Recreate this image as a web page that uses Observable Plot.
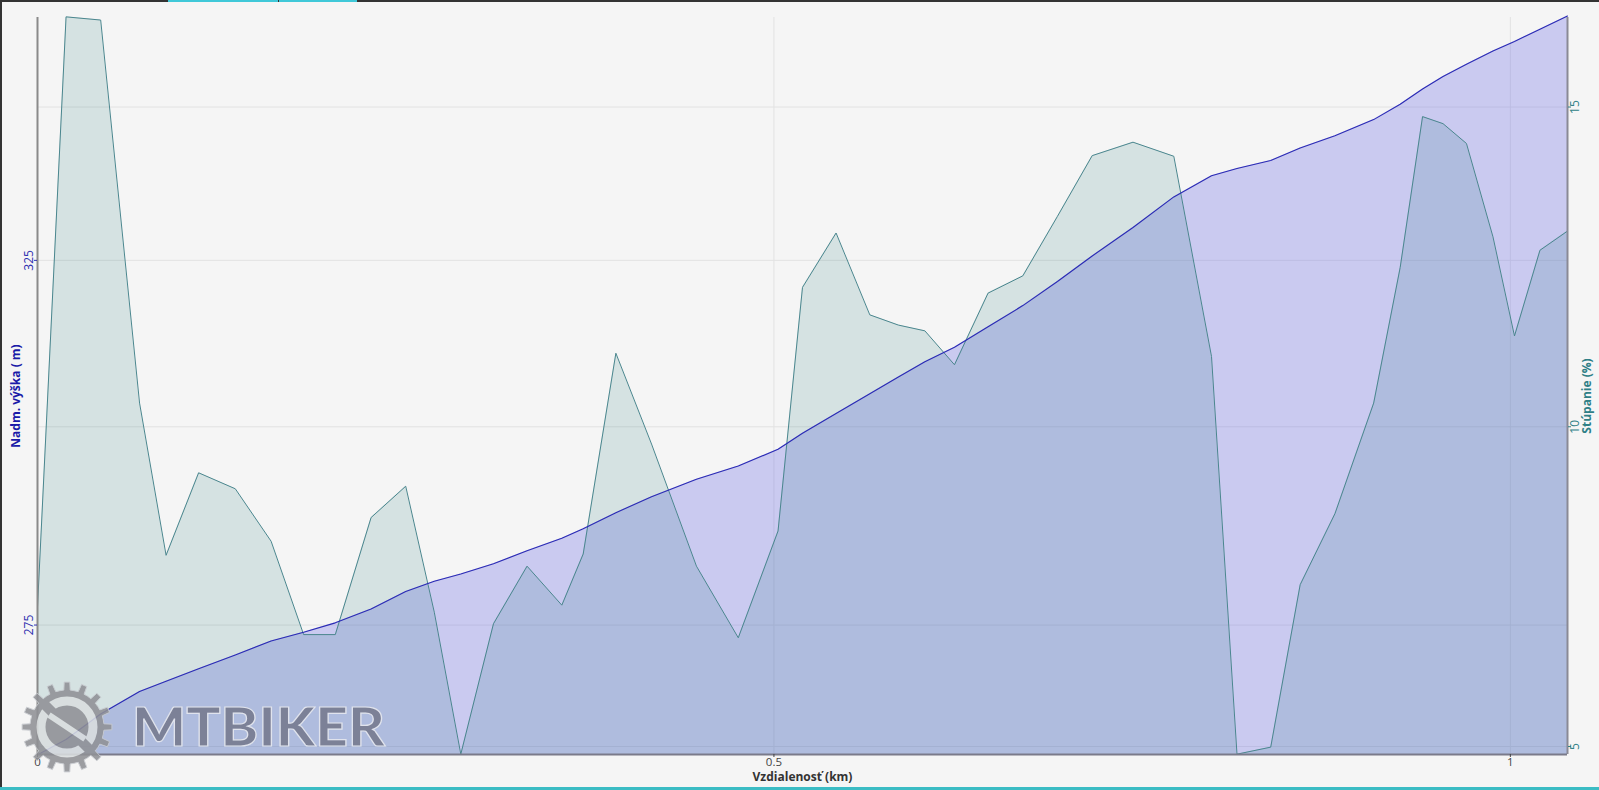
<!DOCTYPE html>
<html>
<head>
<meta charset="utf-8">
<script src="https://cdn.jsdelivr.net/npm/d3@7"></script>
<script src="https://cdn.jsdelivr.net/npm/@observablehq/plot@0.6"></script>
<style>
  html, body { margin: 0; padding: 0; background: #f5f5f5; }
  #wrap { position: relative; width: 1599px; height: 790px; overflow: hidden; }
  .bl { position: absolute; }
</style>
</head>
<body>
<div id="wrap"></div>
<script>
// distance along the route (km)
const distance = [0, 0.0194, 0.0429, 0.0693, 0.0873, 0.1094, 0.1343, 0.1586, 0.1807, 0.2022,
  0.2265, 0.2500, 0.2694, 0.2874, 0.3096, 0.3324, 0.3560, 0.3705, 0.3927, 0.4169,
  0.4474, 0.4758, 0.5028, 0.5194, 0.5422, 0.5651, 0.5845, 0.6025, 0.6226, 0.6454,
  0.6690, 0.6925, 0.7161, 0.7438, 0.7715, 0.7971, 0.8144, 0.8373, 0.8573, 0.8809,
  0.9072, 0.9252, 0.9404, 0.9543, 0.9702, 0.9882, 1.0028, 1.0201, 1.0388];
// elevation (m)
const elevation = [257.2, 259.3, 262.8, 265.9, 267.3, 269.0, 270.9, 272.8, 274.0, 275.3,
  277.2, 279.6, 281.0, 282.0, 283.4, 285.2, 286.9, 288.2, 290.4, 292.6,
  295.0, 296.8, 299.1, 301.3, 304.0, 306.7, 309.0, 311.1, 313.1, 315.9,
  318.8, 322.1, 325.6, 329.5, 333.7, 336.6, 337.6, 338.7, 340.4, 342.1,
  344.3, 346.4, 348.5, 350.2, 351.9, 353.7, 355.0, 356.7, 358.5];
// gradient (%)
const gradient = [7.18, 16.41, 16.36, 10.37, 7.99, 9.28, 9.03, 8.21, 6.75, 6.75,
  8.58, 9.07, 7.10, 4.88, 6.92, 7.82, 7.21, 8.01, 11.15, 9.73,
  7.82, 6.70, 8.37, 12.18, 13.03, 11.75, 11.59, 11.50, 10.97, 12.09,
  12.36, 13.29, 14.24, 14.45, 14.23, 11.10, 4.88, 4.99, 7.53, 8.64,
  10.37, 12.49, 14.85, 14.74, 14.43, 12.97, 11.42, 12.76, 13.06];

const xTicks = [0, 0.5, 1];
const elevTicks = [275, 325];
const gradTicks = [5, 10, 15];

const xLabel = "Vzdialenosť (km)";
const elevLabel = "Nadm. výška ( m)";
const gradLabel = "Stúpanie (%)";

const elevDomain = [257.25, 358.3];
const gradDomain = [4.875, 16.4];
const xDomain = [0, 1.0388];
const g2e = d3.scaleLinear().domain(gradDomain).range(elevDomain);
const labelY = 306.4; // vertical centre of the side titles, in elevation units

const data = distance.map((d, i) => ({d, elev: elevation[i], grad: g2e(gradient[i])}));

const blue = "#2a2ab4";
const teal = "#2f7f86";

const chart = Plot.plot({
  width: 1599,
  height: 790,
  marginLeft: 37,
  marginRight: 32,
  marginTop: 17,
  marginBottom: 36,
  style: {background: "#f5f5f5", fontFamily: "'Open Sans', sans-serif", fontSize: "12px"},
  x: {domain: xDomain},
  y: {domain: elevDomain},
  marks: [
    Plot.gridY(elevTicks, {stroke: "#e2e2e2", strokeOpacity: 1}),
    Plot.gridY(gradTicks.map(g2e), {stroke: "#e2e2e2", strokeOpacity: 1}),
    Plot.gridX([0.5, 1], {stroke: "#e2e2e2", strokeOpacity: 1}),
    Plot.areaY(data, {x: "d", y1: elevDomain[0], y2: "elev", fill: "rgb(102,102,230)", fillOpacity: 0.3}),
    Plot.areaY(data, {x: "d", y1: elevDomain[0], y2: "grad", fill: "rgb(0,100,100)", fillOpacity: 0.13}),
    Plot.lineY(data, {x: "d", y: "grad", stroke: "#4a868e", strokeWidth: 1}),
    Plot.lineY(data, {x: "d", y: "elev", stroke: blue, strokeWidth: 1.1}),
    Plot.ruleX([xDomain[0]], {stroke: "#8a8a8a", strokeWidth: 2}),
    Plot.ruleX([xDomain[1]], {stroke: "#8a8a95", strokeWidth: 2}),
    Plot.ruleY([elevDomain[0]], {stroke: "#7a7a8a", strokeWidth: 2}),
    Plot.axisY(elevTicks, {anchor: "left", tickRotate: -90, tickSize: 3, tickPadding: 2, color: "#3030b0", label: null, fontSize: 12}),
    Plot.axisY(gradTicks.map(g2e), {anchor: "right", tickSize: 3, color: teal, tickFormat: () => "", label: null}),
    Plot.text(gradTicks, {y: g2e, text: d => String(d), frameAnchor: "right", textAnchor: "middle", dx: 8, rotate: -90,
      fill: teal, fontSize: 12}),
    Plot.axisX(xTicks, {tickSize: 3, tickPadding: 0, color: "#444", tickFormat: v => String(v), label: null, fontSize: 11.5}),
    Plot.text([xLabel], {frameAnchor: "bottom", dy: 26, fill: "#333", fontWeight: "bold", fontSize: 12}),
    Plot.text([elevLabel], {y: () => labelY, frameAnchor: "left", textAnchor: "middle", dx: -21, rotate: -90, fill: "#1a1aa8", fontWeight: "bold", fontSize: 12}),
    Plot.text([gradLabel], {y: () => labelY, frameAnchor: "right", textAnchor: "middle", dx: 20, rotate: -90, fill: teal, fontWeight: "bold", fontSize: 12})
  ]
});

const wrap = document.getElementById("wrap");
wrap.appendChild(chart);

// watermark logo
const ns = "http://www.w3.org/2000/svg";
const logo = document.createElementNS(ns, "svg");
logo.setAttribute("width", 1599);
logo.setAttribute("height", 790);
logo.style.position = "absolute";
logo.style.left = "0px";
logo.style.top = "0px";
logo.style.pointerEvents = "none";
const cx = 67, cy = 727, rOut = 45, rIn = 37, teeth = 16;
let path = "";
for (let i = 0; i < teeth; i++) {
  const a0 = (i / teeth) * 2 * Math.PI;
  const step = 2 * Math.PI / teeth;
  const pts = [
    [rIn, a0 - step * 0.5], [rIn, a0 - step * 0.22], [rOut, a0 - step * 0.16],
    [rOut, a0 + step * 0.16], [rIn, a0 + step * 0.22]
  ];
  pts.forEach(([r, a], j) => {
    path += (i === 0 && j === 0 ? "M" : "L") + (cx + r * Math.cos(a)).toFixed(1) + "," + (cy + r * Math.sin(a)).toFixed(1);
  });
}
path += "Z";
logo.innerHTML = `
  <g opacity="0.88">
    <path d="${path}" fill="#909196" stroke="#c8cbd0" stroke-width="1"/>
    <circle cx="${cx}" cy="${cy}" r="26" fill="none" stroke="#dadedf" stroke-width="9"/>
    <line x1="${cx-22}" y1="${cy-22}" x2="${cx+22}" y2="${cy+22}" stroke="#909196" stroke-width="10"/>
    <line x1="${cx-18}" y1="${cy-12}" x2="${cx+18}" y2="${cy+12}" stroke="#dadedf" stroke-width="6"/>
  </g>
  <text x="132" y="746" font-family="Lato, 'Open Sans', sans-serif" font-weight="900" font-size="53"
    textLength="253" lengthAdjust="spacingAndGlyphs" fill="#7a7e94" stroke="#e3e6ee" stroke-width="1.2"
    opacity="0.95">MTBIKER</text>
`;
wrap.appendChild(logo);

// page frame lines
function bar(l, t, w, h, c) {
  const d = document.createElement("div");
  d.className = "bl";
  Object.assign(d.style, {left: l + "px", top: t + "px", width: w + "px", height: h + "px", background: c});
  wrap.appendChild(d);
}
bar(0, 0, 1599, 2, "#333");
bar(0, 0, 2, 790, "#333");
bar(168, 0, 110, 2, "#40c8d8");
bar(279, 0, 78, 2, "#40c8d8");
bar(0, 787, 1599, 3, "#3bbcc4");
</script>
</body>
</html>
